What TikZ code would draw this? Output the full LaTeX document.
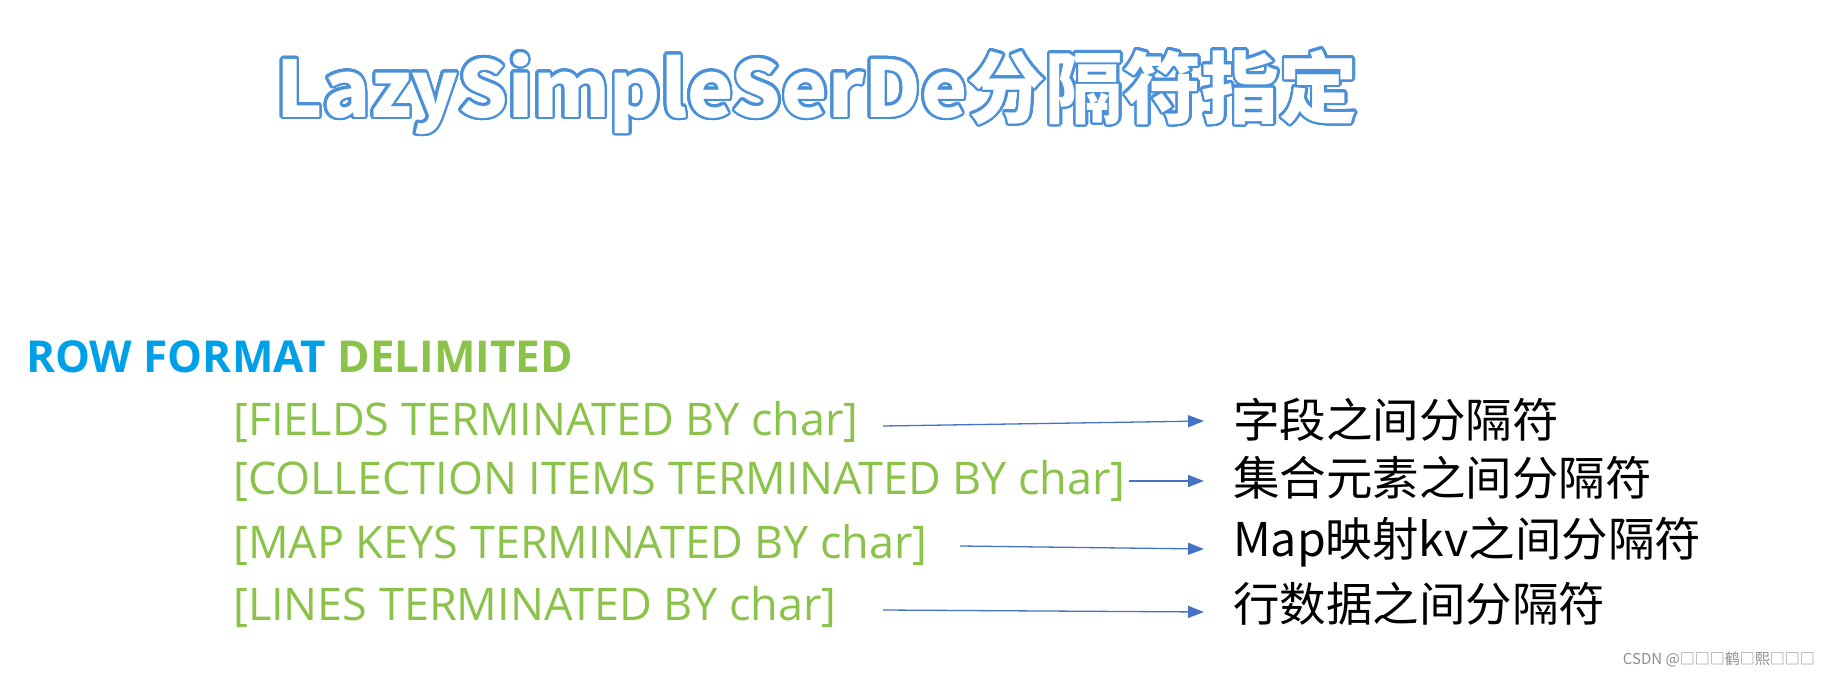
\documentclass[tikz,border=0pt]{standalone}
\usepackage{fontspec}
\usepackage{contour}
\contourlength{2.5pt}
\contournumber{32}
\setmainfont{Open Sans}
\newfontfamily\cjk{Noto Sans CJK SC}
\usetikzlibrary{arrows.meta}
\definecolor{rowblue}{HTML}{00A0E9}
\definecolor{delgreen}{HTML}{8BC34A}
\definecolor{arrblue}{HTML}{4472C4}
\definecolor{ttlblue}{HTML}{4A90D9}
\tikzset{
  opt/.style={anchor=west, text=delgreen, font=\fontsize{45}{47}\selectfont, inner sep=0pt},
  desc/.style={anchor=west, text=black, font=\cjk\fontsize{46.5}{48}\selectfont, inner sep=0pt},
  arr/.style={draw=arrblue, line width=1.3pt, -{Triangle[length=16pt,width=12pt]}}
}
\begin{document}
\begin{tikzpicture}[x=1pt,y=-1pt]
\useasboundingbox (0,0) rectangle (1829,679);
\node (title) [font=\cjk\bfseries\fontsize{78}{82}\selectfont, inner sep=0pt] at (817,93) {\contour{ttlblue}{\color{white}LazySimpleSerDe分隔符指定}};
\node (row) [anchor=west, inner sep=0pt, font=\bfseries\fontsize{44}{46}\selectfont] at (26,357) {\textcolor{rowblue}{ROW FORMAT} \textcolor{delgreen}{DELIMITED}};
\node (f) [opt] at (233,422) {[FIELDS TERMINATED BY char]};
\node (c) [opt] at (233,481) {[COLLECTION ITEMS TERMINATED BY char]};
\node (m) [opt] at (233,545) {[MAP KEYS TERMINATED BY char]};
\node (l) [opt] at (233,607) {[LINES TERMINATED BY char]};
\node (df) [desc] at (1233,420) {字段之间分隔符};
\node (dc) [desc] at (1233,478) {集合元素之间分隔符};
\node (dm) [desc] at (1233,542) {Map映射kv之间分隔符};
\node (dl) [desc] at (1233,604) {行数据之间分隔符};
\coordinate (fs) at (883,426); \coordinate (fe) at (1204,421);
\coordinate (cs) at (1129,481); \coordinate (ce) at (1204,481);
\coordinate (ms) at (960,546); \coordinate (me) at (1204,549);
\coordinate (ls) at (883,610); \coordinate (le) at (1204,612);
\draw[arr] (fs) -- (fe);
\draw[arr] (cs) -- (ce);
\draw[arr] (ms) -- (me);
\draw[arr] (ls) -- (le);
\node (wm) [anchor=east, text=black!45, font=\cjk\fontsize{15}{16}\selectfont, inner sep=0pt] at (1815,659) {CSDN @□□□鹤□熙□□□};
\end{tikzpicture}
\end{document}
